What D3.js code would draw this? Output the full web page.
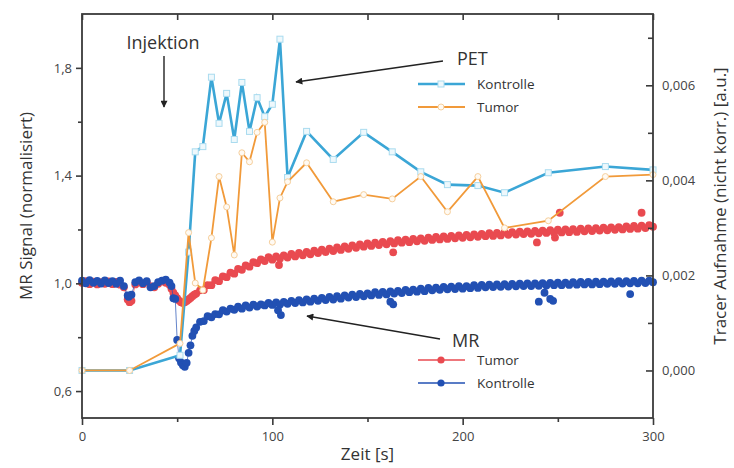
<!DOCTYPE html>
<html><head><meta charset="utf-8">
<script src="https://cdn.jsdelivr.net/npm/d3@7"></script>
<style>
body{margin:0;background:#fff}
text{font-family:"Open Sans","Noto Sans",sans-serif}
</style>
</head><body>
<svg id="c" width="734" height="468"></svg>
<script>
// ---------- DATA ----------
const petTime = [0, 25, 51.5, 56, 59.5, 63.5, 68, 72, 76, 80, 84, 88, 92, 96, 100, 104, 108, 118, 132, 148, 163, 178, 192, 208, 222, 245, 275, 300];
const petKontrolle = [0, 0, 0.00032, 0.00249, 0.0046, 0.00471, 0.00617, 0.0052, 0.00583, 0.00486, 0.00606, 0.00503, 0.00574, 0.00534, 0.0056, 0.00697, 0.00406, 0.00503, 0.00444, 0.00501, 0.0046, 0.00418, 0.00391, 0.00389, 0.00374, 0.00416, 0.00429, 0.00422];
const petTumor = [0, 0, 0.00057, 0.0029, 0.00184, 0.00169, 0.00279, 0.00408, 0.00344, 0.00243, 0.00458, 0.00439, 0.00501, 0.00522, 0.0027, 0.00363, 0.00397, 0.00437, 0.00355, 0.0037, 0.00361, 0.00408, 0.00334, 0.00408, 0.003, 0.00315, 0.00408, 0.00412];

const mrTime = [0,2,4,6,8,10,12,14,16,18,20,22,24,26,28,30,32,34,36,38,40,42,44,46,
 47,48,49,50,51,52,53,54,55,56,57,58,59,60,
 62,64,66,68,70,72,74,76,78,80,82,84,86,88,90,92,94,96,98,100,
 102,104,106,108,110,112,114,116,118,120,122,124,126,128,130,132,134,136,138,140,
 142,144,146,148,150,152,154,156,158,160,162,164,166,168,170,172,174,176,178,180,
 182,184,186,188,190,192,194,196,198,200,202,204,206,208,210,212,214,216,218,220,
 222,224,226,228,230,232,234,236,238,240,242,244,246,248,250,252,254,256,258,260,
 262,264,266,268,270,272,274,276,278,280,282,284,286,288,290,292,294,296,298,300];
const mrKontrolle = [1.01,1.0,1.012,1.002,1.009,0.999,1.011,1.001,1.008,0.998,1.01,0.99,0.955,0.958,1.004,1.011,1.0,1.008,0.985,0.99,1.004,1.01,1.014,1.003,
 0.99,0.945,0.942,0.79,0.722,0.706,0.696,0.69,0.705,0.742,0.77,0.805,0.823,0.836,
 0.857,0.86,0.878,0.874,0.886,0.885,0.9,0.895,0.906,0.902,0.913,0.906,0.918,0.91,0.921,0.914,0.922,0.918,0.927,0.92,
 0.929,0.921,0.931,0.924,0.935,0.927,0.938,0.929,0.94,0.932,0.943,0.935,0.946,0.938,0.95,0.94,0.952,0.943,0.955,0.947,
 0.958,0.949,0.961,0.952,0.963,0.955,0.967,0.957,0.968,0.959,0.97,0.962,0.972,0.964,0.976,0.967,0.977,0.969,0.98,0.971,
 0.983,0.974,0.984,0.976,0.987,0.978,0.988,0.979,0.99,0.98,0.99,0.982,0.993,0.983,0.994,0.985,0.995,0.986,0.996,0.987,
 0.997,0.988,0.998,0.989,0.999,0.99,1.0,0.99,1.0,0.991,1.001,0.992,1.002,0.993,1.003,0.993,1.003,0.994,1.004,0.995,
 1.005,0.996,1.005,0.996,1.006,0.997,1.006,0.998,1.007,0.998,1.008,0.999,1.008,1.0,1.009,1.0,1.01,1.001,1.01,1.004];
const mrTumor = [1.002,1.008,0.997,1.006,0.996,1.004,0.998,1.007,0.997,1.005,0.995,0.985,0.94,0.935,0.996,1.004,0.997,1.005,0.99,0.985,0.998,1.007,1.002,0.995,
 0.98,0.965,0.955,0.945,0.936,0.93,0.927,0.93,0.934,0.94,0.946,0.952,0.958,0.962,
 0.974,0.975,0.993,0.993,1.012,1.008,1.026,1.023,1.04,1.036,1.054,1.05,1.067,1.062,1.079,1.075,1.089,1.083,1.097,1.088,
 1.1,1.092,1.104,1.096,1.109,1.1,1.113,1.104,1.117,1.108,1.121,1.112,1.125,1.116,1.129,1.12,1.133,1.124,1.137,1.128,
 1.141,1.132,1.145,1.136,1.148,1.139,1.151,1.142,1.154,1.145,1.157,1.148,1.16,1.151,1.162,1.153,1.165,1.156,1.167,1.158,
 1.17,1.161,1.172,1.163,1.174,1.165,1.176,1.167,1.178,1.169,1.18,1.171,1.182,1.173,1.184,1.175,1.186,1.176,1.187,1.178,
 1.189,1.18,1.19,1.181,1.192,1.183,1.193,1.184,1.195,1.186,1.196,1.187,1.197,1.188,1.199,1.189,1.2,1.19,1.201,1.191,
 1.203,1.193,1.204,1.194,1.205,1.196,1.207,1.197,1.208,1.199,1.209,1.2,1.211,1.202,1.213,1.203,1.214,1.205,1.216,1.21];
// isolated MR samples off the main trend
const mrKontrolleOutTime = [24.5, 103, 104.5, 162, 163.5, 240, 243, 246, 247.5, 288];
const mrKontrolleOut = [0.95, 0.9, 0.882, 0.932, 0.922, 0.932, 0.965, 0.942, 0.935, 0.96];
const mrTumorOutTime = [25, 103.5, 163.5, 239, 248.5, 251, 294];
const mrTumorOut = [0.93, 1.068, 1.115, 1.152, 1.17, 1.262, 1.262];

const xMajor = [0, 100, 200, 300];
const xMinor = [50, 150, 250];
const yLeftMajor = [0.6, 1.0, 1.4, 1.8];
const yLeftMajorLabels = ["0,6", "1,0", "1,4", "1,8"];
const yLeftMinor = [0.8, 1.2, 1.6];
const yRightMajor = [0, 0.002, 0.004, 0.006];
const yRightMajorLabels = ["0,000", "0,002", "0,004", "0,006"];
const yRightMinor = [0.001, 0.003, 0.005, 0.007];

// ---------- STYLE ----------
const C = {
  petK: "#3ba6d6", petT: "#f19a3a", mrT: "#e94a50", mrK: "#2250b3",
  axis: "#3a3a3a", text: "#444"
};
const L = 82, R = 653, T = 14, B = 418;

const svg = d3.select("#c");
const x = d3.scaleLinear([0, 300], [L, R]);
const yL = d3.scaleLinear([0.5, 2.0], [B, T]);
const yR = d3.scaleLinear([-0.001, 0.0075], [B, T]);

// ---------- MR ----------
const MR_R = 3.9;
function mrSeries(times, vals, color) {
  const pts = times.map((t, i) => [t, vals[i]]);
  svg.append("path").datum(pts)
    .attr("fill", "none").attr("stroke", color).attr("stroke-width", 1).attr("opacity", 0.7)
    .attr("d", d3.line().x(d => x(d[0])).y(d => yL(d[1])));
  svg.append("g").selectAll("circle").data(pts).join("circle")
    .attr("cx", d => x(d[0])).attr("cy", d => yL(d[1])).attr("r", MR_R).attr("fill", color);
}
function mrOut(times, vals, color) {
  svg.append("g").selectAll("circle").data(times.map((t, i) => [t, vals[i]])).join("circle")
    .attr("cx", d => x(d[0])).attr("cy", d => yL(d[1])).attr("r", MR_R).attr("fill", color);
}
mrSeries(mrTime, mrTumor, C.mrT);
mrOut(mrTumorOutTime, mrTumorOut, C.mrT);
mrSeries(mrTime, mrKontrolle, C.mrK);
mrOut(mrKontrolleOutTime, mrKontrolleOut, C.mrK);

// ---------- PET ----------
const petLine = d3.line().x(d => x(d[0])).y(d => yR(d[1]));
const pk = petTime.map((t, i) => [t, petKontrolle[i]]);
const pt = petTime.map((t, i) => [t, petTumor[i]]);
svg.append("path").datum(pk).attr("fill", "none").attr("stroke", C.petK).attr("stroke-width", 2.6).attr("d", petLine);
svg.append("g").selectAll("rect").data(pk).join("rect")
  .attr("x", d => x(d[0]) - 3).attr("y", d => yR(d[1]) - 3).attr("width", 6).attr("height", 6)
  .attr("fill", "#eef8fc").attr("stroke", "#a9dbef").attr("stroke-width", 1);
svg.append("path").datum(pt).attr("fill", "none").attr("stroke", C.petT).attr("stroke-width", 1.8).attr("d", petLine);
svg.append("g").selectAll("circle").data(pt).join("circle")
  .attr("cx", d => x(d[0])).attr("cy", d => yR(d[1])).attr("r", 3)
  .attr("fill", "#fffaf3").attr("stroke", "#f6cf9c").attr("stroke-width", 1);

// ---------- AXES ----------
const ax = svg.append("g").attr("class", "axes");
function styleAxis(g) {
  g.select(".domain").remove();
  g.selectAll("line").attr("stroke", C.axis).attr("stroke-width", 1.6);
  g.selectAll("text").attr("fill", C.text).attr("font-size", 13)
    .attr("font-family", '"Open Sans","Noto Sans",sans-serif');
}
ax.append("g").attr("transform", `translate(0,${B})`)
  .call(d3.axisBottom(x).tickValues(xMajor).tickSize(7).tickPadding(7).tickSizeOuter(0)).call(styleAxis);
ax.append("g").attr("transform", `translate(0,${B})`)
  .call(d3.axisBottom(x).tickValues(xMinor).tickSize(4).tickFormat("").tickSizeOuter(0)).call(styleAxis);
ax.append("g").attr("transform", `translate(0,${T})`)
  .call(d3.axisTop(x).tickValues(xMajor.concat(xMinor)).tickSize(-6).tickFormat("").tickSizeOuter(0)).call(styleAxis);
ax.append("g").attr("transform", `translate(${L},0)`)
  .call(d3.axisLeft(yL).tickValues(yLeftMajor).tickSize(6).tickPadding(4)
    .tickFormat((d, i) => yLeftMajorLabels[i]).tickSizeOuter(0)).call(styleAxis);
ax.append("g").attr("transform", `translate(${L},0)`)
  .call(d3.axisLeft(yL).tickValues(yLeftMinor).tickSize(4).tickFormat("").tickSizeOuter(0)).call(styleAxis);
ax.append("g").attr("transform", `translate(${R},0)`)
  .call(d3.axisRight(yR).tickValues(yRightMajor).tickSize(-7).tickPadding(9)
    .tickFormat((d, i) => yRightMajorLabels[i]).tickSizeOuter(0)).call(styleAxis);
ax.append("g").attr("transform", `translate(${R},0)`)
  .call(d3.axisRight(yR).tickValues(yRightMinor).tickSize(-5).tickFormat("").tickSizeOuter(0)).call(styleAxis);
ax.append("rect").attr("x", L).attr("y", T).attr("width", R - L).attr("height", B - T)
  .attr("fill", "none").attr("stroke", C.axis).attr("stroke-width", 1.8);

svg.append("text").attr("transform", `translate(32,206) rotate(-90)`).attr("text-anchor", "middle")
  .attr("font-size", 17).attr("fill", "#333").text("MR Signal (normalisiert)");
svg.append("text").attr("transform", `translate(726,206) rotate(-90)`).attr("text-anchor", "middle")
  .attr("font-size", 17).attr("fill", "#333").text("Tracer Aufnahme (nicht korr.) [a.u.]");
svg.append("text").attr("x", (L + R) / 2).attr("y", 460).attr("text-anchor", "middle")
  .attr("font-size", 17).attr("fill", "#333").text("Zeit [s]");

// ---------- ANNOTATIONS ----------
const defs = svg.append("defs");
defs.append("marker").attr("id", "ah").attr("viewBox", "0 0 10 10").attr("refX", 9).attr("refY", 5)
  .attr("markerWidth", 9).attr("markerHeight", 7).attr("orient", "auto").attr("markerUnits", "userSpaceOnUse")
  .append("path").attr("d", "M0,0 L10,5 L0,10 z").attr("fill", "#222");
function arrow(x1, y1, x2, y2) {
  svg.append("line").attr("x1", x1).attr("y1", y1).attr("x2", x2).attr("y2", y2)
    .attr("stroke", "#222").attr("stroke-width", 1.4).attr("marker-end", "url(#ah)");
}
svg.append("text").attr("x", 163).attr("y", 49).attr("text-anchor", "middle")
  .attr("font-size", 18).attr("fill", "#333").text("Injektion");
arrow(164, 56, 164, 107);
svg.append("text").attr("x", 457).attr("y", 65).attr("font-size", 18).attr("fill", "#333").text("PET");
arrow(443, 61, 296, 82);
svg.append("text").attr("x", 452).attr("y", 347).attr("font-size", 18).attr("fill", "#333").text("MR");
arrow(440, 339, 307, 316);

function legendRow(y, color, label, kind) {
  svg.append("line").attr("x1", 418).attr("x2", 465).attr("y1", y).attr("y2", y)
    .attr("stroke", color).attr("stroke-width", kind === "sq" ? 2.6 : (kind === "ci" ? 1.8 : 1.4));
  if (kind === "sq") svg.append("rect").attr("x", 438).attr("y", y - 3).attr("width", 6).attr("height", 6)
    .attr("fill", "#eef8fc").attr("stroke", "#a9dbef");
  else if (kind === "ci") svg.append("circle").attr("cx", 441).attr("cy", y).attr("r", 3)
    .attr("fill", "#fffaf3").attr("stroke", "#f6cf9c");
  else svg.append("circle").attr("cx", 441).attr("cy", y).attr("r", 3.6).attr("fill", color);
  svg.append("text").attr("x", 477).attr("y", y).attr("dy", "0.35em").attr("font-size", 13.5)
    .attr("fill", "#333").text(label);
}
legendRow(84, C.petK, "Kontrolle", "sq");
legendRow(107, C.petT, "Tumor", "ci");
legendRow(360, C.mrT, "Tumor", "dot");
legendRow(383, C.mrK, "Kontrolle", "dot");
</script>
</body></html>
